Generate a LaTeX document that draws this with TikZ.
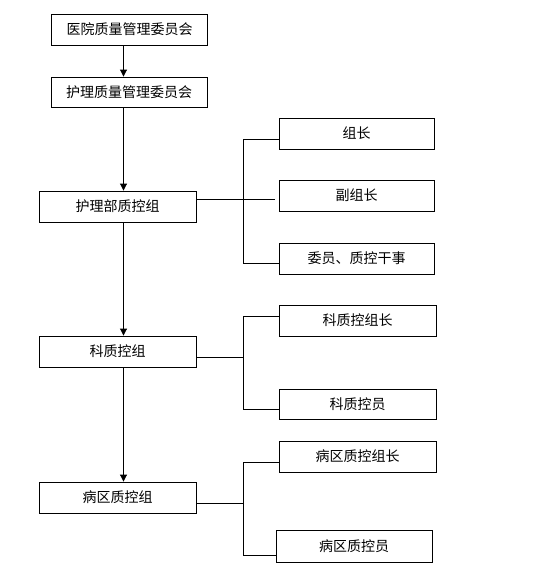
\documentclass[tikz,border=0pt]{standalone}
\usepackage{fontspec}
\setmainfont{Noto Sans CJK SC}
\usetikzlibrary{arrows.meta}
\begin{document}
\begin{tikzpicture}[x=1pt,y=-1pt,
  box/.style={draw,line width=0.9pt,minimum height=31pt,inner sep=0pt,font=\fontsize{14}{16}\selectfont},
  lbox/.style={box,minimum width=157pt},
  rbox/.style={box,minimum width=156pt},
  link/.style={line width=0.9pt},
  arr/.style={line width=0.9pt,-{Triangle[width=7pt,length=7pt]}}]
\useasboundingbox (0,0) rectangle (536,581);
% left column
\node[rbox] (b1) at (129.5,29.5) {医院质量管理委员会};
\node[rbox,minimum height=30pt] (b2) at (129,92) {护理质量管理委员会};
\node[lbox] (b3) at (117.5,206.5) {护理部质控组};
\node[lbox] (b4) at (117.5,351.5) {科质控组};
\node[lbox] (b5) at (117.5,497.5) {病区质控组};
% right column
\node[box,minimum width=155pt] (r1) at (356.5,133.5) {组长};
\node[box,minimum width=155pt] (r2) at (356.5,195.5) {副组长};
\node[box,minimum width=155pt] (r3) at (356.5,258.5) {委员、质控干事};
\node[lbox] (r4) at (357.5,320.5) {科质控组长};
\node[lbox,minimum height=30pt] (r5) at (357.5,404) {科质控员};
\node[lbox] (r6) at (357.5,456.5) {病区质控组长};
\node[rbox,minimum height=32pt] (r7) at (354,546) {病区质控员};
% arrows
\coordinate (ax) at (123.5,0);
\draw[arr] (b1.south -| ax) -- (b2.north -| ax);
\draw[arr] (b2.south -| ax) -- (b3.north -| ax);
\draw[arr] (b3.south -| ax) -- (b4.north -| ax);
\draw[arr] (b4.south -| ax) -- (b5.north -| ax);
% bus 1
\coordinate (h3) at (0,199);
\coordinate (e3) at (275,199);
\coordinate (t1) at (243,139);
\coordinate (u1) at (243,263);
\draw[link] (b3.east |- h3) -- (e3);
\draw[link] (r1.west |- t1) -- (t1) -- (u1) -- (r3.west |- u1);
% bus 2
\coordinate (h4) at (243,357);
\coordinate (t2) at (243,316);
\coordinate (u2) at (243,409);
\draw[link] (b4.east |- h4) -- (h4);
\draw[link] (r4.west |- t2) -- (t2) -- (u2) -- (r5.west |- u2);
% bus 3
\coordinate (h5) at (243,503);
\coordinate (t3) at (243,462);
\coordinate (u3) at (243,555);
\draw[link] (b5.east |- h5) -- (h5);
\draw[link] (r6.west |- t3) -- (t3) -- (u3) -- (r7.west |- u3);
\end{tikzpicture}
\end{document}
